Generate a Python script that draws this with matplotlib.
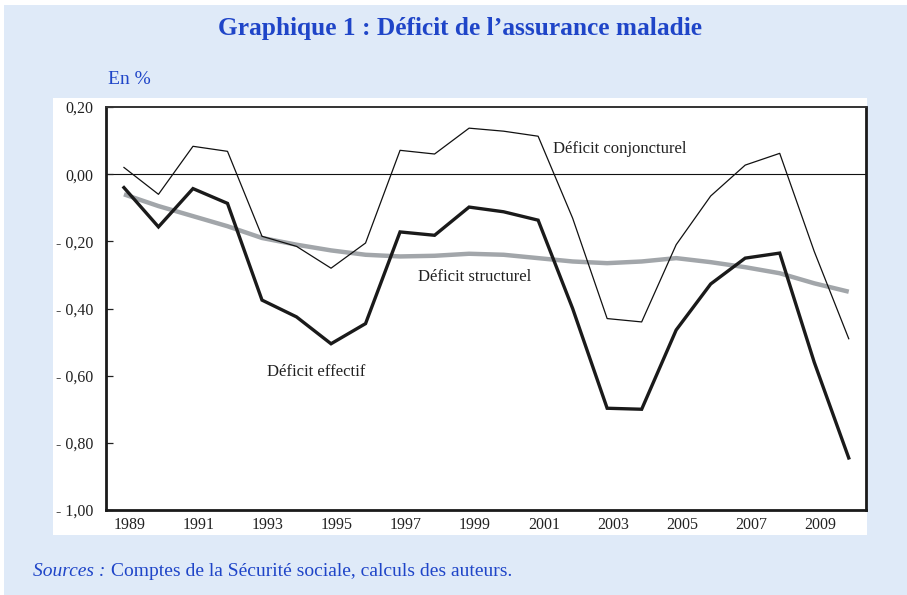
import matplotlib.pyplot as plt
from matplotlib.patches import Rectangle
from matplotlib.transforms import ScaledTranslation
import numpy as np

# data (en % du PIB)
years = list(range(1989, 2011))
conjoncturel = [0.02, -0.06, 0.083, 0.068, -0.185, -0.215, -0.28, -0.205, 0.071, 0.06,
                0.137, 0.128, 0.113, -0.131, -0.43, -0.44, -0.21, -0.065, 0.027, 0.062,
                -0.23, -0.49]
effectif = [-0.04, -0.157, -0.043, -0.087, -0.375, -0.425, -0.505, -0.445, -0.172, -0.182,
            -0.098, -0.112, -0.137, -0.40, -0.697, -0.70, -0.464, -0.327, -0.25, -0.235,
            -0.56, -0.845]
structurel = [-0.06, -0.095, -0.125, -0.155, -0.19, -0.21, -0.227, -0.24, -0.245, -0.243,
              -0.237, -0.24, -0.25, -0.26, -0.265, -0.26, -0.25, -0.262, -0.277, -0.295,
              -0.325, -0.35]
yticks = [0.2, 0.0, -0.2, -0.4, -0.6, -0.8, -1.0]
xticks = list(range(1989, 2011, 2))

W, H = 907, 595
blue = '#1f45c8'
serif = 'Liberation Serif'

fig = plt.figure(figsize=(W / 100, H / 100), dpi=100, facecolor='white')

# light blue background and white inner panel
fig.patches.append(Rectangle((4 / W, 0), 1, 1 - 5 / H, transform=fig.transFigure,
                             facecolor='#dfeaf8', edgecolor='none', zorder=-2))
fig.patches.append(Rectangle((53 / W, 1 - 535 / H), (867 - 53) / W, (535 - 98) / H,
                             transform=fig.transFigure, facecolor='white',
                             edgecolor='none', zorder=-1))

ax = fig.add_axes([106 / W, 1 - 510 / H, (866 - 106) / W, (510 - 107) / H])
ax.set_facecolor('white')

ax.axhline(0, color='#111111', lw=0.8, zorder=1)
ax.plot(years, conjoncturel, color='#111111', lw=0.9, zorder=3)
ax.plot(years, structurel, color='#a2a6aa', lw=3.2, solid_capstyle='butt', zorder=2)
ax.plot(years, effectif, color='#1a1a1a', lw=2.4, solid_joinstyle='miter', zorder=4)

ax.set_xlim(1988.48, 2010.5)
ax.set_ylim(-1.0, 0.2)

ax.set_yticks(yticks)
ylabels = []
for v in yticks:
    s = ('%.2f' % abs(v)).replace('.', ',')
    if v < -1e-9:
        s = '- ' + s
    ylabels.append(s)
ax.set_yticklabels(ylabels, fontfamily=serif, fontsize=11.5, color='#222222')
ax.tick_params(axis='y', direction='in', length=5, width=0.9, pad=9, color='#222222')

ax.set_xticks(xticks)
ax.set_xticklabels([str(y) for y in xticks], fontfamily=serif, fontsize=11.5,
                   color='#222222')
ax.tick_params(axis='x', length=0, pad=5)
shift = ScaledTranslation(6 / 100, 0, fig.dpi_scale_trans)
for lbl in ax.get_xticklabels():
    lbl.set_transform(lbl.get_transform() + shift)

for side in ['left', 'bottom', 'right']:
    ax.spines[side].set_linewidth(2)
    ax.spines[side].set_color('#1a1a1a')
ax.spines['top'].set_linewidth(1.4)
ax.spines['top'].set_color('#333333')

# series labels
ax.text(2001.44, 0.075, 'Déficit conjoncturel', fontfamily=serif, fontsize=12,
        color='#222222', va='center')
ax.text(1997.52, -0.305, 'Déficit structurel', fontfamily=serif, fontsize=12,
        color='#222222', va='center')
ax.text(1993.15, -0.59, 'Déficit effectif', fontfamily=serif, fontsize=12,
        color='#222222', va='center')

# title, unit and source
fig.text(460 / W, 1 - 28 / H, 'Graphique 1 : Déficit de l\u2019assurance maladie',
         fontfamily=serif, fontsize=18.3, fontweight='bold', color=blue,
         ha='center', va='center')
fig.text(108 / W, 1 - 79 / H, 'En %', fontfamily=serif, fontsize=14, color=blue,
         va='center')
fig.text(33 / W, 1 - 572 / H, 'Sources :', fontfamily=serif, fontsize=14,
         fontstyle='italic', color=blue, va='center')
fig.text(111 / W, 1 - 572 / H, 'Comptes de la Sécurité sociale, calculs des auteurs.',
         fontfamily=serif, fontsize=14, color=blue, va='center')

fig.savefig('out.png', dpi=100, facecolor=fig.get_facecolor())
